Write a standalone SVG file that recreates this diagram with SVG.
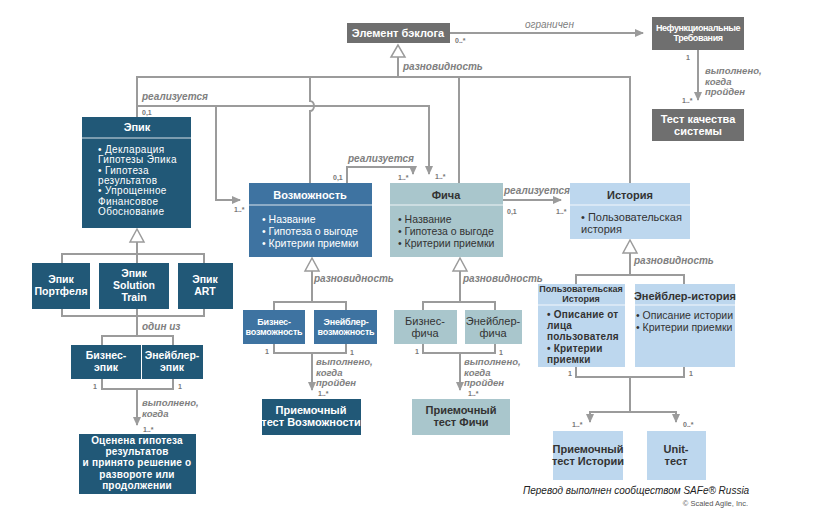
<svg xmlns="http://www.w3.org/2000/svg" width="825" height="522" viewBox="0 0 825 522">
<defs>
<style>
text{font-family:"Liberation Sans",Arial,sans-serif}
.ln{fill:none;stroke:#9b9b9b;stroke-width:2}
.sep{stroke:#ffffff;stroke-opacity:0.55;stroke-width:1.5}
.lbl{font-size:10px;font-style:italic;font-weight:bold;fill:#808080}
.lb2{font-size:9.5px;font-style:italic;font-weight:bold;fill:#808080}
.m{font-size:7px;font-weight:bold;fill:#777}
.wb{fill:#fff;font-weight:bold;text-anchor:middle}
.db{fill:#333;font-weight:bold;text-anchor:middle}
.w{fill:#fff}
.d{fill:#333}
.grey{fill:#6f6f6f}
.epic{fill:#215877}
.cap{fill:#3e73a1}
.feat{fill:#a9c6cc}
.story{fill:#bdd7ee}
.gen{fill:#fff;stroke:#9b9b9b;stroke-width:1.5}
</style>
<marker id="arr" markerWidth="10" markerHeight="10" refX="8" refY="4" orient="auto" markerUnits="userSpaceOnUse">
<path d="M0,0 L9,4 L0,8 Z" fill="#9b9b9b"/>
</marker>
</defs>
<rect width="825" height="522" fill="#fff"/>

<g id="connectors">
<path class="ln" d="M398,57 V77"/>
<path class="ln" d="M137,117 V77 H630 V183"/>
<path class="ln" d="M310,77 V101 a4,5 0 0 1 0,10 V183"/>
<path class="ln" d="M459,77 V183"/>
<polygon class="gen" points="398,45 391,57 405,57"/>
<text class="lbl" x="403" y="70">разновидность</text>
<path class="ln" d="M450,33 H643" marker-end="url(#arr)"/>
<text class="lbl" x="525" y="28" style="font-weight:normal">ограничен</text>
<text class="m" x="455" y="43">0..*</text>
<path class="ln" d="M698,50 V100" marker-end="url(#arr)"/>
<text class="m" x="686" y="60">1</text>
<text class="m" x="682" y="103">1..*</text>
<text class="lb2" x="705" y="74">выполнено,<tspan x="705" dy="10.7">когда</tspan><tspan x="705" dy="10.7">пройден</tspan></text>
<path class="ln" d="M137,106 H429 V174" marker-end="url(#arr)"/>
<path class="ln" d="M216,106 V200 H240" marker-end="url(#arr)"/>
<text class="lbl" x="142" y="100">реализуется</text>
<text class="m" x="142" y="115">0,1</text>
<text class="m" x="234" y="212">1..*</text>
<text class="m" x="435" y="179">1..*</text>
<path class="ln" d="M347,183 V167 H413 V174" marker-end="url(#arr)"/>
<text class="lbl" x="348" y="162">реализуется</text>
<text class="m" x="333" y="180">0,1</text>
<text class="m" x="398" y="180">1..*</text>
<path class="ln" d="M503,200 H561" marker-end="url(#arr)"/>
<text class="lbl" x="504" y="194">реализуется</text>
<text class="m" x="507" y="214">0,1</text>
<text class="m" x="556" y="214">1..*</text>
<polygon class="gen" points="137,229 130,242 144,242"/>
<path class="ln" d="M137,242 V254 M62,263 V254 H204 V263 M137,254 V263"/>
<path class="ln" d="M62,309 V316 H204 V309 M137,309 V336 M102,345 V336 H173 V345"/>
<text class="lbl" x="142" y="330">один из</text>
<path class="ln" d="M102,379 V389 H173 V379 M137,389 V425" marker-end="url(#arr)"/>
<text class="m" x="93" y="389">1</text>
<text class="m" x="178" y="389">1</text>
<text class="lb2" x="142" y="406">выполнено,<tspan x="142" dy="10.7">когда</tspan></text>
<text class="m" x="143" y="432">1..*</text>
<polygon class="gen" points="312,258 305,271 319,271"/>
<path class="ln" d="M312,271 V302 M274,310 V302 H346 V310"/>
<text class="lbl" x="314" y="282">разновидность</text>
<path class="ln" d="M274,344 V353 H346 V344 M312,353 V390" marker-end="url(#arr)"/>
<text class="m" x="265" y="354">1</text>
<text class="m" x="350" y="355">1</text>
<text class="lb2" x="316" y="365">выполнено,<tspan x="316" dy="10.7">когда</tspan><tspan x="316" dy="10.7">пройден</tspan></text>
<text class="m" x="318" y="396">1..*</text>
<polygon class="gen" points="460,258 453,271 467,271"/>
<path class="ln" d="M460,271 V302 M423,310 V302 H495 V310"/>
<text class="lbl" x="463" y="282">разновидность</text>
<path class="ln" d="M423,344 V353 H495 V344 M460,353 V390" marker-end="url(#arr)"/>
<text class="m" x="415" y="354">1</text>
<text class="m" x="499" y="355">1</text>
<text class="lb2" x="464" y="365">выполнено,<tspan x="464" dy="10.7">когда</tspan><tspan x="464" dy="10.7">пройден</tspan></text>
<text class="m" x="468" y="396">1..*</text>
<polygon class="gen" points="630,240 623,253 637,253"/>
<path class="ln" d="M630,253 V275 M576,284 V275 H684 V284"/>
<text class="lbl" x="634" y="264">разновидность</text>
<path class="ln" d="M576,367 V377 H684 V367 M630,377 V412 M590,412 H676"/>
<path class="ln" d="M590,411 V422" marker-end="url(#arr)"/>
<path class="ln" d="M676,411 V422" marker-end="url(#arr)"/>
<text class="m" x="568" y="376">1</text>
<text class="m" x="689" y="376">1</text>
<text class="m" x="572" y="427">1..*</text>
<text class="m" x="683" y="427">0..*</text>
</g>

<g id="backlog-item">
<rect class="grey" x="347" y="23" width="103" height="20"/>
<text class="wb" x="398" y="37" font-size="11">Элемент бэклога</text>
</g>
<g id="nfr">
<rect class="grey" x="652" y="17" width="92" height="33"/>
<text class="wb" x="698" y="31" font-size="9" letter-spacing="-0.4">Нефункциональные<tspan x="698" dy="10.1">Требования</tspan></text>
</g>
<g id="quality-test">
<rect class="grey" x="652" y="109" width="92" height="32"/>
<text class="wb" x="698" y="123" font-size="11">Тест качества<tspan x="698" dy="12.4">системы</tspan></text>
</g>

<g id="epic">
<rect class="epic" x="82" y="117" width="109" height="111"/>
<line class="sep" x1="82" y1="138" x2="191" y2="138"/>
<text class="wb" x="137" y="131" font-size="11">Эпик</text>
<text class="w" font-size="10" letter-spacing="0.35" x="98" y="153">• Декларация<tspan x="98" dy="10.3">Гипотезы Эпика</tspan><tspan x="98" dy="10.3">• Гипотеза</tspan><tspan x="98" dy="10.3">результатов</tspan><tspan x="98" dy="10.3">• Упрощенное</tspan><tspan x="98" dy="10.3">Финансовое</tspan><tspan x="98" dy="10.3">Обоснование</tspan></text>
</g>
<g id="portfolio-epic">
<rect class="epic" x="32" y="263" width="58" height="46"/>
<text class="wb" x="61" y="283" font-size="10.5">Эпик<tspan x="61" dy="11.8">Портфеля</tspan></text>
</g>
<g id="st-epic">
<rect class="epic" x="99" y="263" width="70" height="46"/>
<text class="wb" x="134" y="277" font-size="10.5">Эпик<tspan x="134" dy="11.8">Solution</tspan><tspan x="134" dy="11.8">Train</tspan></text>
</g>
<g id="art-epic">
<rect class="epic" x="178" y="263" width="55" height="46"/>
<text class="wb" x="205" y="283" font-size="10.5">Эпик<tspan x="205" dy="11.8">ART</tspan></text>
</g>
<g id="business-epic">
<rect class="epic" x="71" y="345" width="70" height="34"/>
<text class="wb" x="106" y="359" font-size="10.5">Бизнес-<tspan x="106" dy="11.8">эпик</tspan></text>
</g>
<g id="enabler-epic">
<rect class="epic" x="142" y="345" width="61" height="34"/>
<text class="wb" x="172" y="359" font-size="10.5">Энейблер-<tspan x="172" dy="11.8">эпик</tspan></text>
</g>
<g id="epic-result">
<rect class="epic" x="79" y="434" width="117" height="60"/>
<text class="wb" font-size="10" letter-spacing="0.2" x="137" y="444">Оценена гипотеза<tspan x="137" dy="11.2">результатов</tspan><tspan x="137" dy="11.2">и принято решение о</tspan><tspan x="137" dy="11.2">развороте или</tspan><tspan x="137" dy="11.2">продолжении</tspan></text>
</g>

<g id="capability">
<rect class="cap" x="249" y="183" width="123" height="74"/>
<line class="sep" x1="249" y1="205" x2="372" y2="205"/>
<text class="wb" x="310" y="199" font-size="11">Возможность</text>
<text class="w" font-size="10.5" x="262" y="223">• Название<tspan x="262" dy="11.8">• Гипотеза о выгоде</tspan><tspan x="262" dy="11.8">• Критерии приемки</tspan></text>
</g>
<g id="business-cap">
<rect class="cap" x="243" y="310" width="62" height="34"/>
<text class="wb" x="274" y="325" font-size="9" letter-spacing="-0.2">Бизнес-<tspan x="274" dy="10.1">возможность</tspan></text>
</g>
<g id="enabler-cap">
<rect class="cap" x="314" y="310" width="63" height="34"/>
<text class="wb" x="346" y="325" font-size="9" letter-spacing="-0.2">Энейблер-<tspan x="346" dy="10.1">возможность</tspan></text>
</g>
<g id="cap-test">
<rect class="epic" x="262" y="399" width="99" height="36"/>
<text class="wb" x="311" y="414" font-size="11">Приемочный<tspan x="311" dy="12.4">тест Возможности</tspan></text>
</g>

<g id="feature">
<rect class="feat" x="390" y="183" width="113" height="74"/>
<line class="sep" x1="390" y1="205" x2="503" y2="205"/>
<text class="db" x="446" y="199" font-size="11">Фича</text>
<text class="d" font-size="10.5" x="398" y="223">• Название<tspan x="398" dy="11.8">• Гипотеза о выгоде</tspan><tspan x="398" dy="11.8">• Критерии приемки</tspan></text>
</g>
<g id="business-feature">
<rect class="feat" x="394" y="310" width="63" height="34"/>
<text class="d" x="425" y="325" font-size="11" text-anchor="middle">Бизнес-<tspan x="425" dy="12.4">фича</tspan></text>
</g>
<g id="enabler-feature">
<rect class="feat" x="465" y="310" width="57" height="34"/>
<text class="d" x="493" y="325" font-size="11" text-anchor="middle">Энейблер-<tspan x="493" dy="12.4">фича</tspan></text>
</g>
<g id="feature-test">
<rect class="feat" x="412" y="399" width="98" height="36"/>
<text class="db" x="461" y="414" font-size="11">Приемочный<tspan x="461" dy="12.4">тест Фичи</tspan></text>
</g>

<g id="story">
<rect class="story" x="570" y="183" width="120" height="56"/>
<line class="sep" x1="570" y1="205" x2="690" y2="205"/>
<text class="db" x="630" y="199" font-size="11">История</text>
<text class="d" font-size="11" x="581" y="221">• Пользовательская<tspan x="581" dy="12.4">история</tspan></text>
</g>
<g id="user-story">
<rect class="story" x="538" y="284" width="87" height="83"/>
<line class="sep" x1="538" y1="305" x2="625" y2="305"/>
<text class="db" x="581" y="292" font-size="9">Пользовательская<tspan x="581" dy="10.1">История</tspan></text>
<text class="d" font-size="10" font-weight="bold" letter-spacing="0.2" x="547" y="318">• Описание от<tspan x="547" dy="11.2">лица</tspan><tspan x="547" dy="11.2">пользователя</tspan><tspan x="547" dy="11.2">• Критерии</tspan><tspan x="547" dy="11.2">приемки</tspan></text>
</g>
<g id="enabler-story">
<rect class="story" x="635" y="284" width="100" height="83"/>
<line class="sep" x1="635" y1="305" x2="735" y2="305"/>
<text class="db" x="685" y="300" font-size="11">Энейблер-история</text>
<text class="d" font-size="10.5" x="636" y="319">• Описание истории<tspan x="636" dy="11.8">• Критерии приемки</tspan></text>
</g>
<g id="story-test">
<rect class="story" x="553" y="431" width="70" height="49"/>
<text class="db" x="588" y="453" font-size="11">Приемочный<tspan x="588" dy="12.4">тест Истории</tspan></text>
</g>
<g id="unit-test">
<rect class="story" x="647" y="431" width="59" height="49"/>
<text class="db" x="676" y="453" font-size="11">Unit-<tspan x="676" dy="12.4">тест</tspan></text>
</g>

<g id="footer">
<text x="523" y="494" font-size="10" font-style="italic" fill="#222">Перевод выполнен сообществом SAFe® Russia</text>
<text x="748" y="506" font-size="7.5" fill="#555" text-anchor="end">© Scaled Agile, Inc.</text>
</g>
</svg>
